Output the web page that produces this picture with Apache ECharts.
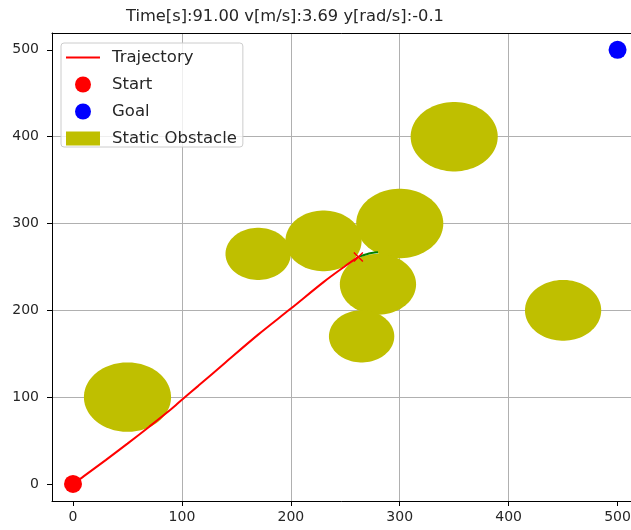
<!DOCTYPE html>
<html><head><meta charset="utf-8">
<script src="https://cdn.jsdelivr.net/npm/echarts@6/dist/echarts.min.js"></script>
<style>html,body{margin:0;padding:0;background:#fff;overflow:hidden}#c{width:631px;height:530px}</style>
</head><body><div id="c"></div>
<script>
const titleText = 'Time[s]:91.00 v[m/s]:3.69 y[rad/s]:-0.1';
const xTicks = [0, 100, 200, 300, 400, 500];
const yTicks = [0, 100, 200, 300, 400, 500];

const trajX = [0, 10, 30, 50, 70, 90, 100, 115, 140, 170, 200, 230, 250, 262];
const trajY = [0, 9, 27.5, 46.5, 66, 86, 97, 113, 140, 172, 202, 232.5, 251, 261.5];

const predX = [262, 268, 274, 280];
const predY = [261.5, 264, 266, 267];

const currentPos = [262, 261.5];
const startPos = [0, 0];
const goalPos = [500, 500];

const obstacleX = [50, 170, 230, 300, 350, 280, 265, 450];
const obstacleY = [100, 265, 280, 300, 400, 230, 170, 200];
const obstacleR = [40, 30, 35, 40, 40, 35, 30, 35];

const FONT = 'DejaVu Sans';
const zip = (a, b) => a.map((v, i) => [v, b[i]]);
const obstacleData = obstacleX.map((x, i) => [x, obstacleY[i], obstacleR[i]]);

const chart = echarts.init(document.getElementById('c'), null, {renderer: 'canvas'});

const axisCommon = {
  type: 'value',
  axisLine: {show: true, onZero: false, lineStyle: {color: '#000', width: 1}},
  splitLine: {show: true, showMinLine: false, showMaxLine: false, lineStyle: {color: '#b0b0b0', width: 1}},
  axisLabel: {fontFamily: FONT, fontSize: 14, color: '#262626'},
  axisTick: {show: true, length: 5, lineStyle: {color: '#000', width: 1}}
};

const lineIcon = 'path://M0,0L0.01,0M0,7L34,7L34,9L0,9ZM34,16L34.01,16';
const rectIcon = 'path://M0,0L0.01,0M0,1L34,1L34,15L0,15ZM34,16L34.01,16';

chart.setOption({
  animation: false,
  textStyle: {fontFamily: FONT},
  title: {
    text: titleText, left: 121, top: 4,
    textStyle: {fontFamily: FONT, fontSize: 16.3, fontWeight: 'normal', color: '#262626'}
  },
  grid: {left: 52, top: 33, width: 587, height: 468, containLabel: false, outerBoundsMode: 'none'},
  xAxis: [
    Object.assign({}, axisCommon, {
      min: -19.3, max: 519.7, position: 'bottom',
      axisLabel: Object.assign({}, axisCommon.axisLabel, {margin: 9, customValues: xTicks}),
      axisTick: Object.assign({}, axisCommon.axisTick, {customValues: xTicks})
    }),
    {
      type: 'value', min: -19.3, max: 519.7, position: 'top',
      axisLine: {show: true, onZero: false, lineStyle: {color: '#000', width: 1}},
      splitLine: {show: false}, axisLabel: {show: false}, axisTick: {show: false}
    }
  ],
  yAxis: [
    Object.assign({}, axisCommon, {
      min: -19.6, max: 519.4, position: 'left',
      axisLabel: Object.assign({}, axisCommon.axisLabel, {margin: 13, customValues: yTicks}),
      axisTick: Object.assign({}, axisCommon.axisTick, {customValues: yTicks})
    })
  ],
  legend: {
    orient: 'vertical', left: 61, top: 43,
    data: [
      {name: 'Trajectory', icon: lineIcon},
      {name: 'Start', icon: 'circle'},
      {name: 'Goal', icon: 'circle'},
      {name: 'Static Obstacle', icon: rectIcon}
    ],
    itemWidth: 34, itemHeight: 16, itemGap: 10,
    padding: [6, 6, 0, 5],
    backgroundColor: 'rgba(255,255,255,0.8)',
    borderColor: '#cccccc', borderWidth: 1, borderRadius: 3,
    textStyle: {fontFamily: FONT, fontSize: 16.5, color: '#262626', padding: [0, 0, 0, 7]},
    selectedMode: false
  },
  series: [
    {
      name: 'Static Obstacle', type: 'custom', z: 1,
      itemStyle: {color: '#bfbf00'},
      encode: {x: 0, y: 1},
      data: obstacleData,
      renderItem: function (params, api) {
        const cx = api.value(0), cy = api.value(1), r = api.value(2);
        const pts = [];
        for (let k = 0; k < 90; k++) {
          const a = k / 90 * Math.PI * 2;
          pts.push(api.coord([cx + r * Math.cos(a), cy + r * Math.sin(a)]));
        }
        return {type: 'polygon', shape: {points: pts}, style: {fill: '#bfbf00'}};
      }
    },
    {
      name: 'Trajectory', type: 'line', z: 3, symbol: 'none', showSymbol: false, smooth: 0.3,
      lineStyle: {color: '#ff0000', width: 2}, itemStyle: {color: '#ff0000'},
      data: zip(trajX, trajY)
    },
    {
      name: 'Predicted', type: 'line', z: 4, symbol: 'none', showSymbol: false, smooth: true,
      lineStyle: {color: '#008000', width: 2}, itemStyle: {color: '#008000'},
      data: zip(predX, predY)
    },
    {
      name: 'Current', type: 'scatter', z: 5,
      symbol: 'path://M0,0L10,10M10,0L0,10', symbolSize: 9,
      itemStyle: {color: 'rgba(0,0,0,0)', borderColor: '#ff0000', borderWidth: 1.5, opacity: 1},
      data: [currentPos]
    },
    {
      name: 'Start', type: 'scatter', z: 6, symbol: 'circle', symbolSize: 18,
      itemStyle: {color: '#ff0000', opacity: 1}, data: [startPos]
    },
    {
      name: 'Goal', type: 'scatter', z: 6, symbol: 'circle', symbolSize: 18,
      itemStyle: {color: '#0000ff', opacity: 1}, data: [goalPos]
    }
  ]
});
</script>
</body></html>
